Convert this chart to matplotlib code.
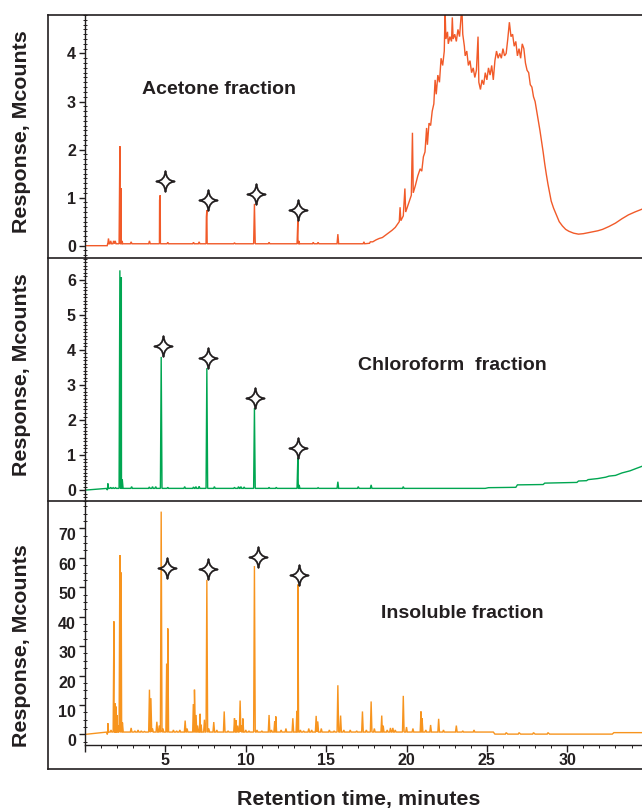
import matplotlib
matplotlib.use('Agg')
import matplotlib.pyplot as plt
import numpy as np
from matplotlib.path import Path
from matplotlib.lines import Line2D
from matplotlib.ticker import MultipleLocator
import matplotlib.transforms as mtransforms

plt.rcParams['font.family'] = ['Liberation Sans', 'DejaVu Sans']

# ---------------- data (retention time in minutes, response in Mcounts) ----------------
x_ticks = [0, 5, 10, 15, 20, 25, 30]
x_tick_labels = ['', '5', '10', '15', '20', '25', '30']

# Acetone fraction
acetone_base_t = [0, 1.38, 1.42, 16.0, 17.0, 17.3, 17.35, 17.4, 17.7, 17.75, 17.9, 18.1, 18.3, 18.5, 18.7,
                  18.9, 19.1, 19.3, 19.45, 19.55, 19.6, 19.65, 19.8, 19.9, 19.95, 20.1, 20.2, 20.3, 20.37,
                  20.42, 20.55, 20.7, 20.85, 20.95, 21.05, 21.15, 21.25, 21.3, 21.4, 21.5, 21.6, 21.7,
                  21.78, 21.85, 21.95, 22.05, 22.15, 22.25, 22.35, 22.4, 22.45, 22.55, 22.6, 22.7, 22.8,
                  22.85, 22.9, 23.0, 23.1, 23.2, 23.3, 23.4, 23.45, 23.5, 23.6, 23.65, 23.75, 23.85, 23.95,
                  24.05, 24.15, 24.25, 24.35, 24.45, 24.5, 24.6, 24.7, 24.8, 24.9, 25.0, 25.1, 25.2, 25.3,
                  25.4, 25.5, 25.6, 25.7, 25.8, 25.9, 26.0, 26.1, 26.2, 26.3, 26.4, 26.5, 26.6, 26.7, 26.8,
                  26.9, 27.0, 27.1, 27.2, 27.3, 27.4, 27.5, 27.6, 27.7, 27.8, 27.9, 28.0, 28.1, 28.2, 28.3,
                  28.4, 28.5, 28.6, 28.7, 28.8, 28.9, 29.0, 29.15, 29.35, 29.5, 29.7, 29.9, 30.1, 30.4,
                  30.7, 31.0, 31.3, 31.6, 31.9, 32.2, 32.6, 33.0, 33.4, 33.8, 34.2, 34.65]
acetone_base_v = [0, 0, 0.04, 0.04, 0.04, 0.04, 0.08, 0.04, 0.05, 0.08, 0.08, 0.12, 0.15, 0.17, 0.22,
                  0.27, 0.32, 0.38, 0.45, 0.50, 0.80, 0.52, 0.62, 1.19, 0.70, 0.85, 0.95, 1.05, 2.35,
                  1.10, 1.25, 1.45, 1.60, 1.55, 1.85, 1.95, 2.45, 2.10, 2.55, 2.50, 2.80, 2.95,
                  3.45, 3.15, 3.55, 3.40, 3.90, 3.75, 4.05, 4.90, 4.30, 4.45, 4.20, 4.35, 4.25,
                  4.75, 4.30, 4.40, 4.25, 4.50, 4.35, 4.80, 4.90, 4.40, 4.15, 3.95, 4.05, 3.75, 3.85,
                  3.60, 3.70, 3.50, 3.65, 4.35, 3.40, 3.25, 3.45, 3.35, 3.60, 3.45, 3.70, 3.55, 3.75,
                  3.45, 3.85, 4.05, 3.90, 4.00, 3.90, 4.10, 3.95, 4.00, 4.30, 4.65, 4.35, 4.40, 4.15, 4.25,
                  3.95, 4.10, 3.90, 4.20, 4.10, 3.80, 3.65, 3.60, 3.35, 3.30, 3.10, 3.00, 2.80, 2.60, 2.40,
                  2.18, 1.95, 1.70, 1.48, 1.28, 1.10, 0.93, 0.78, 0.62, 0.50, 0.41, 0.34, 0.30, 0.26,
                  0.24, 0.25, 0.27, 0.29, 0.31, 0.34, 0.40, 0.47, 0.56, 0.64, 0.70, 0.76]
acetone_floor = 0.04
acetone_peak_t = [1.46, 1.60, 1.78, 1.88, 2.17, 2.24, 2.30, 2.87, 4.01, 4.64, 4.68, 5.15, 6.75, 7.10,
                  7.55, 7.58, 9.30, 10.54, 11.45, 13.24, 13.30, 14.20, 14.50, 15.73]
acetone_peak_h = [0.15, 0.10, 0.10, 0.10, 2.07, 1.20, 0.10, 0.08, 0.10, 0.95, 1.05, 0.07, 0.07, 0.08,
                  0.60, 0.74, 0.06, 0.87, 0.07, 0.52, 0.10, 0.07, 0.07, 0.24]
acetone_star_t = [4.99, 7.68, 10.63, 13.28]
acetone_star_v = [1.345, 0.96, 1.075, 0.74]

# Chloroform fraction
chloro_base_t = [0, 1.38, 1.42, 24.9, 25.1, 26.8, 26.9, 28.5, 28.6, 30.6, 30.7, 31.2, 31.3, 31.9,
                 32.4, 32.6, 33.0, 33.4, 33.9, 34.3, 34.65]
chloro_base_v = [0, 0, 0.05, 0.05, 0.07, 0.08, 0.15, 0.16, 0.20, 0.22, 0.26, 0.27, 0.30, 0.33,
                 0.37, 0.40, 0.42, 0.49, 0.55, 0.62, 0.68]
chloro_floor = 0.05
chloro_peak_t = [1.42, 1.60, 1.75, 1.90, 2.17, 2.26, 2.32, 2.90, 4.00, 4.20, 4.40, 4.74, 5.15, 6.20,
                 6.75, 6.90, 7.10, 7.58, 8.05, 9.30, 9.55, 9.70, 9.90, 10.54, 11.45, 11.90, 13.24,
                 13.32, 14.50, 15.73, 17.00, 17.80, 19.80, 22.00]
chloro_peak_h = [0.19, 0.08, 0.07, 0.07, 6.27, 6.07, 0.30, 0.10, 0.09, 0.10, 0.10, 3.80, 0.08, 0.10,
                 0.09, 0.10, 0.11, 3.48, 0.10, 0.08, 0.10, 0.10, 0.09, 2.34, 0.08, 0.08, 0.92,
                 0.15, 0.07, 0.24, 0.10, 0.15, 0.10, 0.05]
chloro_star_t = [4.88, 7.68, 10.58, 13.28]
chloro_star_v = [4.10, 3.77, 2.63, 1.20]

# Insoluble fraction
insol_base_t = [0, 1.38, 1.42, 25.4, 25.5, 26.15, 26.2, 26.3, 26.95, 27.0, 27.1, 27.85, 27.9, 28.0,
                28.75, 28.8, 28.9, 32.8, 32.9, 34.65]
insol_base_v = [0, 0, 0.8, 0.8, 0.1, 0.1, 0.6, 0.1, 0.1, 0.6, 0.1, 0.1, 0.6, 0.1,
                0.1, 0.6, 0.1, 0.1, 0.6, 0.6]
insol_floor = 0.8
insol_peak_t = [1.42, 1.62, 1.80, 1.86, 1.92, 1.98, 2.05, 2.17, 2.25, 2.33, 2.87, 3.10, 3.30, 3.50,
                3.70, 4.01, 4.10, 4.20, 4.47, 4.62, 4.74, 4.85, 5.08, 5.15, 5.50, 5.70, 5.90, 6.23,
                6.35, 6.75, 6.81, 6.91, 7.00, 7.16, 7.22, 7.43, 7.58, 7.70, 8.01, 8.20, 8.66, 8.90,
                9.30, 9.38, 9.50, 9.65, 9.75, 9.82, 10.00, 10.20, 10.54, 10.70, 11.00, 11.45, 11.60,
                11.80, 11.87, 12.20, 12.50, 12.93, 13.18, 13.24, 13.40, 13.60, 13.92, 14.10, 14.38,
                14.48, 14.70, 15.20, 15.50, 15.73, 15.90, 16.10, 16.50, 16.90, 17.26, 17.50, 17.80,
                18.00, 18.46, 18.55, 18.80, 19.00, 19.15, 19.30, 19.80, 20.00, 20.40, 20.90, 20.97,
                21.20, 21.50, 22.00, 22.30, 23.10, 23.50, 24.20, 24.70, 25.20]
insol_peak_h = [3.8, 1.5, 38.4, 10.6, 9.5, 6.6, 3.0, 60.9, 55.0, 4.0, 2.2, 1.2, 1.5, 1.2,
                1.0, 15.2, 12.3, 2.0, 4.3, 3.0, 75.7, 2.0, 24.0, 36.0, 1.5, 1.2, 1.5, 4.7,
                2.0, 10.3, 15.2, 6.6, 3.0, 7.0, 3.3, 5.0, 52.5, 2.0, 4.2, 1.5, 7.8, 1.2,
                5.5, 4.9, 3.0, 11.5, 3.0, 5.4, 1.5, 1.2, 57.2, 1.5, 1.2, 6.6, 1.5,
                4.4, 6.1, 1.5, 2.0, 5.5, 8.0, 50.9, 1.5, 1.2, 2.0, 1.5, 6.3,
                4.4, 2.0, 1.5, 1.2, 16.7, 6.4, 1.5, 1.5, 1.2, 7.8, 1.5, 11.2,
                2.0, 6.4, 3.0, 1.5, 2.2, 2.2, 1.5, 13.1, 2.5, 2.0, 7.8, 5.5,
                1.5, 3.2, 5.3, 1.5, 3.0, 1.2, 1.5, 0.8, 0.8]
insol_star_t = [5.13, 7.68, 10.75, 13.32]
insol_star_v = [56.6, 56.1, 60.3, 54.3]

# ---------------- styling ----------------
DARK = '#231F20'
C_ACE = '#F15A29'
C_CHL = '#00A651'
C_INS = '#F7941E'
W, H = 642, 808


def fx(px):
    return px / W


def fy(py):
    return 1 - py / H


def trace(base_t, base_v, floor, pk_t, pk_h, w=0.05):
    pts = list(zip(base_t, base_v))
    for t, h in zip(pk_t, pk_h):
        pts += [(t - w, floor), (t, h), (t + w, floor)]
    pts.sort(key=lambda p: p[0])
    return [p[0] for p in pts], [p[1] for p in pts]


# 4-pointed star marker with concave arms
star_path = Path(
    [(0, 1), (0.07, 0.07), (0.88, 0), (0.07, -0.07), (0, -1), (-0.07, -0.07), (-0.88, 0),
     (-0.07, 0.07), (0, 1), (0, 1)],
    [Path.MOVETO, Path.CURVE3, Path.CURVE3, Path.CURVE3, Path.CURVE3, Path.CURVE3, Path.CURVE3,
     Path.CURVE3, Path.CURVE3, Path.CLOSEPOLY])

fig = plt.figure(figsize=(W / 100, H / 100), dpi=100)

panels = [
    dict(top=15, bot=257.7, ylim=(-0.25, 4.80), major=1, minor=0.1, color=C_ACE,
         base=(acetone_base_t, acetone_base_v), floor=acetone_floor,
         peaks=(acetone_peak_t, acetone_peak_h), stars=(acetone_star_t, acetone_star_v),
         label='Acetone fraction', lpos=(219.5, 90), ylab=132, shift=0),
    dict(top=257.7, bot=501, ylim=(-0.31, 6.63), major=1, minor=0.1, color=C_CHL,
         base=(chloro_base_t, chloro_base_v), floor=chloro_floor,
         peaks=(chloro_peak_t, chloro_peak_h), stars=(chloro_star_t, chloro_star_v),
         label='Chloroform  fraction', lpos=(452, 365), ylab=375, shift=0),
    dict(top=501, bot=745, ylim=(-3.6, 79.3), major=10, minor=2.5, color=C_INS,
         base=(insol_base_t, insol_base_v), floor=insol_floor,
         peaks=(insol_peak_t, insol_peak_h), stars=(insol_star_t, insol_star_v),
         label='Insoluble fraction', lpos=(462, 613), ylab=646, shift=6),
]

axes = []
for i, p in enumerate(panels):
    ax = fig.add_axes([fx(85), fy(p['bot']), fx(642) - fx(85), fy(p['top']) - fy(p['bot'])])
    axes.append(ax)
    xs, ys = trace(p['base'][0], p['base'][1], p['floor'], p['peaks'][0], p['peaks'][1])
    ax.plot(xs, ys, color=p['color'], lw=1.0, solid_joinstyle='miter')
    ax.plot(p['stars'][0], p['stars'][1], linestyle='none', marker=star_path, markersize=15,
            markerfacecolor='white', markeredgecolor=DARK, markeredgewidth=1.3, zorder=5)
    ax.set_xlim(0, 34.65)
    ax.set_ylim(*p['ylim'])
    for s in ['top', 'right']:
        ax.spines[s].set_visible(False)
    ax.spines['left'].set_color(DARK)
    ax.spines['left'].set_linewidth(1.0)
    ax.yaxis.set_major_locator(MultipleLocator(p['major']))
    ax.yaxis.set_minor_locator(MultipleLocator(p['minor']))
    ax.tick_params(axis='y', which='major', direction='out', length=4.5, width=1.0, color=DARK,
                   labelsize=11.5, pad=2, labelcolor=DARK)
    ax.tick_params(axis='y', which='minor', direction='inout', length=3, width=0.7, color=DARK)
    for lab in ax.get_yticklabels():
        lab.set_fontweight('bold')
        if p['shift']:
            lab.set_transform(lab.get_transform() + mtransforms.ScaledTranslation(
                0, -p['shift'] / 100, fig.dpi_scale_trans))
    if i < 2:
        ax.spines['bottom'].set_visible(False)
        ax.tick_params(axis='x', which='both', bottom=False, labelbottom=False)
    else:
        ax.spines['bottom'].set_color(DARK)
        ax.spines['bottom'].set_linewidth(1.0)
        ax.set_xticks(x_ticks)
        ax.set_xticklabels(x_tick_labels, fontweight='bold')
        ax.xaxis.set_minor_locator(MultipleLocator(1))
        ax.tick_params(axis='x', which='major', direction='out', length=5, width=1.0, color=DARK,
                       labelsize=11.5, pad=1, labelcolor=DARK)
        ax.tick_params(axis='x', which='minor', direction='out', length=2.5, width=0.7, color=DARK)
    ax.patch.set_alpha(0)
    fig.text(fx(p['lpos'][0]), fy(p['lpos'][1]), p['label'], ha='center', va='center',
             fontsize=14, fontweight='bold', color=DARK)
    fig.text(fx(22), fy(p['ylab']), 'Response, Mcounts', rotation=90, ha='center', va='center',
             fontsize=15.4, fontweight='bold', color=DARK)

fig.text(fx(359), fy(799), 'Retention time, minutes', ha='center', va='center',
         fontsize=15.4, fontweight='bold', color=DARK)

# outer frame and separators
LW = 1.2
for yy in [15, 257.7, 501, 769.3]:
    fig.add_artist(Line2D([fx(48.3), 1.0], [fy(yy), fy(yy)], color=DARK, lw=LW))
fig.add_artist(Line2D([fx(48.3), fx(48.3)], [fy(15), fy(769.3)], color=DARK, lw=LW))

fig.savefig('out.png', dpi=100)
